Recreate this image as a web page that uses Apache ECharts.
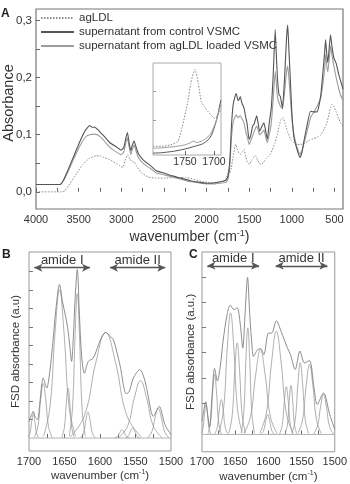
<!DOCTYPE html>
<html><head><meta charset="utf-8">
<script src="https://cdn.jsdelivr.net/npm/echarts@6.0.0/dist/echarts.min.js"></script>
<style>html,body{margin:0;padding:0;background:#fff}#c{width:350px;height:484px}</style>
</head><body><div id="c"></div>
<script>
// ---------- Panel A : FTIR spectra (wavenumber cm-1, absorbance) ----------
const seriesNamesA = ['agLDL', 'supernatant from control VSMC', 'supernatant from agLDL loaded VSMC'];
const xTicksA = [500,750,1000,1250,1500,1750,2000,2250,2500,2750,3000,3250,3500,3750,4000];
const xLabelsA = [500,1000,1500,2000,2500,3000,3500,4000];
const yTicksA = [0,0.05,0.1,0.15,0.2,0.25,0.3];
const yLabelsA = [0,0.1,0.2,0.3];

const specAgLDL = [[4000,0.0],[3700,0.0],[3660,0.002],[3600,0.015],[3520,0.033],[3450,0.048],[3380,0.058],[3300,0.063],[3250,0.063],[3200,0.06],[3134,0.056],[3060,0.05],[3013,0.045],[2980,0.043],[2955,0.055],[2925,0.065],[2900,0.058],[2870,0.052],[2852,0.053],[2820,0.045],[2760,0.033],[2685,0.026],[2600,0.024],[2500,0.024],[2400,0.025],[2300,0.025],[2240,0.025],[2150,0.022],[2050,0.018],[1950,0.016],[1850,0.017],[1780,0.02],[1755,0.03],[1738,0.04],[1725,0.034],[1710,0.042],[1690,0.06],[1670,0.078],[1658,0.083],[1640,0.075],[1620,0.068],[1600,0.066],[1580,0.07],[1561,0.074],[1540,0.062],[1520,0.052],[1500,0.048],[1470,0.055],[1440,0.062],[1424,0.063],[1400,0.055],[1380,0.05],[1362,0.048],[1330,0.052],[1300,0.058],[1270,0.063],[1250,0.066],[1200,0.085],[1170,0.1],[1150,0.115],[1130,0.125],[1105,0.13],[1080,0.12],[1050,0.105],[1015,0.092],[980,0.086],[940,0.083],[897,0.083],[850,0.085],[800,0.09],[750,0.093],[706,0.095],[660,0.1],[620,0.11],[590,0.12],[566,0.135],[545,0.148],[530,0.153],[510,0.15],[480,0.14],[450,0.128],[429,0.121],[400,0.115]];

const specControl = [[4000,0.013],[3800,0.013],[3720,0.013],[3680,0.02],[3620,0.04],[3550,0.065],[3480,0.09],[3420,0.108],[3370,0.116],[3340,0.113],[3310,0.113],[3270,0.108],[3200,0.097],[3134,0.086],[3060,0.079],[3000,0.073],[2970,0.078],[2945,0.095],[2928,0.104],[2910,0.088],[2888,0.072],[2870,0.082],[2850,0.089],[2830,0.08],[2800,0.067],[2744,0.056],[2650,0.045],[2590,0.037],[2500,0.033],[2400,0.028],[2300,0.024],[2200,0.02],[2100,0.017],[2000,0.015],[1900,0.016],[1800,0.019],[1770,0.021],[1745,0.03],[1725,0.06],[1710,0.11],[1690,0.15],[1665,0.168],[1652,0.172],[1635,0.162],[1622,0.16],[1605,0.167],[1585,0.155],[1561,0.147],[1540,0.13],[1526,0.121],[1510,0.1],[1500,0.092],[1480,0.1],[1460,0.115],[1444,0.118],[1412,0.133],[1395,0.12],[1377,0.106],[1350,0.115],[1327,0.121],[1305,0.105],[1288,0.092],[1265,0.12],[1241,0.147],[1220,0.2],[1195,0.284],[1182,0.24],[1168,0.197],[1150,0.17],[1135,0.167],[1110,0.147],[1085,0.2],[1062,0.27],[1048,0.292],[1035,0.25],[1020,0.205],[1000,0.14],[975,0.095],[940,0.075],[905,0.06],[880,0.07],[858,0.089],[830,0.11],[780,0.141],[740,0.14],[703,0.14],[660,0.17],[635,0.21],[615,0.245],[604,0.266],[590,0.24],[578,0.226],[560,0.255],[546,0.275],[530,0.255],[507,0.234],[480,0.225],[449,0.205],[430,0.195],[400,0.18]];

const specLoaded = [[4000,0.013],[3720,0.013],[3680,0.019],[3620,0.037],[3550,0.06],[3480,0.082],[3420,0.096],[3370,0.1],[3310,0.101],[3251,0.097],[3200,0.089],[3134,0.078],[3060,0.07],[3000,0.065],[2970,0.07],[2945,0.087],[2928,0.094],[2910,0.08],[2888,0.065],[2870,0.075],[2850,0.082],[2830,0.073],[2800,0.06],[2744,0.05],[2650,0.04],[2590,0.033],[2500,0.03],[2400,0.026],[2300,0.022],[2200,0.018],[2100,0.016],[2000,0.014],[1900,0.014],[1800,0.016],[1770,0.017],[1745,0.024],[1725,0.05],[1710,0.09],[1690,0.12],[1665,0.132],[1652,0.135],[1635,0.13],[1605,0.133],[1585,0.128],[1561,0.121],[1540,0.105],[1520,0.095],[1500,0.083],[1480,0.09],[1444,0.105],[1412,0.115],[1395,0.108],[1377,0.1],[1350,0.104],[1327,0.108],[1305,0.095],[1288,0.086],[1265,0.1],[1241,0.12],[1220,0.16],[1195,0.211],[1182,0.19],[1168,0.165],[1135,0.15],[1110,0.145],[1085,0.175],[1062,0.21],[1048,0.22],[1035,0.2],[1020,0.17],[1000,0.13],[975,0.1],[940,0.078],[905,0.066],[880,0.072],[858,0.085],[830,0.1],[780,0.13],[740,0.14],[703,0.15],[660,0.165],[635,0.19],[615,0.215],[604,0.24],[590,0.22],[578,0.21],[560,0.235],[546,0.255],[530,0.24],[507,0.22],[480,0.2],[449,0.18],[430,0.17],[400,0.16]];

// ---------- Inset (1805-1688 cm-1, arbitrary units) ----------
const insetTicksX = [1700,1750];
const insetTicksY = [38,69];
const insetAgLDL = [[1805,9.5],[1790,9.5],[1775,11],[1762,15],[1755,30],[1745,58],[1740,78],[1733,93],[1727,78],[1722,58],[1716,52],[1710,47],[1699,40],[1690,47],[1688,50]];
const insetControl = [[1805,2],[1790,2.5],[1770,4],[1750,6.5],[1733,9.5],[1720,12],[1710,16.5],[1704,22],[1698,33],[1694,42],[1690,54.5],[1688,60]];
const insetLoaded = [[1805,7.3],[1790,7.8],[1770,9],[1750,11],[1740,13.5],[1735,15],[1730,13.5],[1720,15.5],[1710,20],[1704,25],[1698,34],[1694,42],[1690,51],[1688,55]];

// ---------- Panels B and C : FSD spectra and fitted bands ----------
const xTicksBC = [1525,1550,1575,1600,1625,1650,1675];
const xLabelsBC = [1500,1550,1600,1650,1700];
const yTicksB = [1,2,3,4,5,6,7,8,9];
const yTicksC = [1.25,2.25,3.25,4.25,5.25,6.25];

const sumB = [[1700,0.9],[1697,1.2],[1694,1.44],[1691,1.1],[1688,1.0],[1685,1.8],[1682,2.9],[1680,3.24],[1677,2.9],[1675,2.7],[1671,3.5],[1667,4.9],[1662,7.0],[1657,8.29],[1653,7.4],[1649,6.67],[1645.5,5.95],[1642.3,4.9],[1640,4.14],[1637.5,5.5],[1635,7.57],[1632,9.1],[1629,6.67],[1626,4.5],[1622,3.5],[1616.5,4.14],[1609.5,4.32],[1602,5.05],[1597,5.5],[1591.5,5.71],[1586,5.5],[1581,5.3],[1572,3.96],[1563,2.4],[1559,2.5],[1553,3.24],[1544,3.69],[1536.5,3.06],[1528,1.44],[1525,1.17],[1520,1.5],[1516.5,1.71],[1508.5,0.72],[1500,0.18]];
const bandsB = [
 [[1701.5,0.02],[1698.5,0.27],[1696.1,0.93],[1694,1.3],[1691.9,0.93],[1689.5,0.27],[1686.5,0.02]],
 [[1692.5,0.04],[1687.5,0.62],[1683.5,2.1],[1680,2.95],[1676.5,2.1],[1672.5,0.62],[1667.5,0.04]],
 [[1679.5,0.1],[1670.5,1.68],[1663.3,5.7],[1657,8.0],[1650.7,5.7],[1643.5,1.68],[1634.5,0.1]],
 [[1653.7,0.04],[1650.2,0.57],[1647.4,1.92],[1645,2.7],[1642.6,1.92],[1639.8,0.57],[1636.3,0.04]],
 [[1643.2,0.1],[1638.7,1.64],[1635.1,5.55],[1632,7.8],[1628.9,5.55],[1625.3,1.64],[1620.8,0.1]],
 [[1627,0.02],[1623,0.29],[1619.8,1.0],[1617,1.4],[1614.2,1.0],[1611,0.29],[1607,0.02]],
 [[1642,0.07],[1622,1.2],[1606,4.06],[1592,5.7],[1578,4.06],[1562,1.2],[1542,0.07]],
 [[1579,0.01],[1575,0.09],[1571.8,0.32],[1569,0.45],[1566.2,0.32],[1563,0.09],[1559,0.01]],
 [[1564,0.01],[1560,0.12],[1556.8,0.39],[1554,0.55],[1551.2,0.39],[1548,0.12],[1544,0.01]],
 [[1573,0.04],[1561,0.65],[1551.4,2.2],[1543,3.1],[1534.6,2.2],[1525,0.65],[1513,0.04]],
 [[1533,0.02],[1527,0.34],[1522.2,1.14],[1518,1.6],[1513.8,1.14],[1509,0.34],[1503,0.02]]
];

const sumC = [[1700,0.53],[1697,1.0],[1694.3,1.3],[1691.5,0.8],[1688.7,0.3],[1685,1.5],[1681.1,2.62],[1676.8,2.12],[1672.5,2.7],[1668.3,3.7],[1662,4.8],[1657.4,5.13],[1651.8,4.96],[1647,5.03],[1642.3,4.37],[1638.5,3.44],[1635.2,4.76],[1631.4,6.24],[1628.1,4.76],[1624.4,3.44],[1622.5,3.1],[1616.3,3.37],[1611.6,3.41],[1606.9,3.17],[1599.8,4.03],[1595,4.03],[1588,4.52],[1580.9,4.1],[1571.4,3.44],[1566.7,3.17],[1559.6,2.58],[1552.5,3.31],[1545.4,2.84],[1538.3,2.94],[1531.2,1.85],[1526.5,1.19],[1517,1.65],[1507.6,0.79],[1500,0.2]];
const bandsC = [
 [[1701.5,0.02],[1698.5,0.25],[1696.1,0.85],[1694,1.19],[1691.9,0.85],[1689.5,0.25],[1686.5,0.02]],
 [[1691,0.03],[1687,0.5],[1683.8,1.7],[1681,2.38],[1678.2,1.7],[1675,0.5],[1671,0.03]],
 [[1681,0.02],[1677,0.29],[1673.8,0.99],[1671,1.39],[1668.2,0.99],[1665,0.29],[1661,0.02]],
 [[1674.5,0.06],[1667.5,1.01],[1661.9,3.44],[1657,4.83],[1652.1,3.44],[1646.5,1.01],[1639.5,0.06]],
 [[1659.5,0.05],[1654.5,0.76],[1650.5,2.59],[1647,3.64],[1643.5,2.59],[1639.5,0.76],[1634.5,0.05]],
 [[1641,0.05],[1637,0.89],[1633.8,3.01],[1631,4.23],[1628.2,3.01],[1625,0.89],[1621,0.05]],
 [[1637,0.04],[1627,0.71],[1619,2.4],[1612,3.37],[1605,2.4],[1597,0.71],[1587,0.04]],
 [[1611,0.01],[1607,0.17],[1603.8,0.56],[1601,0.79],[1598.2,0.56],[1595,0.17],[1591,0.01]],
 [[1613,0.05],[1603,0.86],[1595,2.92],[1588,4.1],[1581,2.92],[1573,0.86],[1563,0.05]],
 [[1583,0.02],[1579,0.4],[1575.8,1.35],[1573,1.9],[1570.2,1.35],[1567,0.4],[1563,0.02]],
 [[1574.7,0.03],[1571.2,0.41],[1568.4,1.39],[1566,1.95],[1563.6,1.39],[1560.8,0.41],[1557.3,0.03]],
 [[1564.5,0.04],[1559.5,0.6],[1555.5,2.03],[1552,2.85],[1548.5,2.03],[1544.5,0.6],[1539.5,0.04]],
 [[1555.5,0.04],[1548.5,0.58],[1542.9,1.98],[1538,2.78],[1533.1,1.98],[1527.5,0.58],[1520.5,0.04]],
 [[1532,0.02],[1526,0.33],[1521.2,1.13],[1517,1.59],[1512.8,1.13],[1508,0.33],[1502,0.02]]
];
const baselineBC = [[1700,0],[1500,0]];

// amide annotations: [label, from wavenumber, to wavenumber]
const amideB = [['amide I',1692.5,1614],['amide II',1586,1508]];
const amideC = [['amide I',1692,1614],['amide II',1589,1511]];
const amideYB = 9.2, amideYC = 6.7;

// ---------- chart ----------
const FF = '"Liberation Sans", Arial, sans-serif';
const TXT = '#333';
const chart = echarts.init(document.getElementById('c'), null, {renderer:'canvas'});
const plain = v => String(v);

function sup(size) {
  return {
    rich: {
      a: {fontSize: size, fontFamily: FF, color: TXT, lineHeight: size + 3},
      s: {fontSize: Math.round(size * 0.62), fontFamily: FF, color: TXT, verticalAlign: 'top', lineHeight: size * 0.6}
    }
  };
}
function xAx(grid, min, max, ticks, labels, fs, name, nameSize, gap, margin) {
  return {
    type: 'value', gridIndex: grid, min: min, max: max, inverse: true,
    axisLine: {show: false}, splitLine: {show: false},
    axisTick: {show: true, inside: true, length: 4, customValues: ticks, lineStyle: {color: '#666', width: 1}},
    axisLabel: {customValues: labels, fontSize: fs, fontFamily: FF, color: TXT, margin: margin, formatter: plain},
    name: name, nameLocation: 'middle', nameGap: gap,
    nameTextStyle: name ? sup(nameSize) : undefined
  };
}
function lineS(name, data, xi, yi, color, width, type, smooth, z) {
  return {
    name: name, type: 'line', data: data, xAxisIndex: xi, yAxisIndex: yi,
    symbol: 'none', showSymbol: false, smooth: smooth, lineStyle: {color: color, width: width, type: type},
    itemStyle: {color: color}, z: z || 2, silent: true, animation: false
  };
}
function amideMarks(list, y) {
  return {
    silent: true, symbol: ['arrow', 'arrow'], symbolSize: [6, 8],
    lineStyle: {color: '#555', width: 1.4, type: 'solid'},
    label: {show: true, position: 'insideMiddleTop', distance: 1, fontSize: 13, fontFamily: FF, color: TXT,
      formatter: p => p.name},
    data: list.map(a => [{name: a[0], coord: [a[1], y]}, {coord: [a[2], y]}])
  };
}

const series = [];
series.push(lineS(seriesNamesA[0], specAgLDL, 0, 0, '#8a8a8a', 1, [1.5, 1.5], 0.15, 3));
series.push(lineS(seriesNamesA[1], specControl, 0, 0, '#555', 1.1, 'solid', 0.15, 5));
series.push(lineS(seriesNamesA[2], specLoaded, 0, 0, '#9c9c9c', 1.1, 'solid', 0.15, 4));
series.push(lineS('i1', insetAgLDL, 1, 1, '#8a8a8a', 1, [1.5, 1.5], 0.2));
series.push(lineS('i2', insetControl, 1, 1, '#555', 1, 'solid', 0.2));
series.push(lineS('i3', insetLoaded, 1, 1, '#9c9c9c', 1, 'solid', 0.2));

series.push(lineS('bB', baselineBC, 2, 2, '#aaa', 0.9, 'solid', false));
bandsB.forEach((b, i) => series.push(lineS('B' + i, b, 2, 2, '#9a9a9a', 0.8, 'solid', 0.45)));
const sB = lineS('sumB', sumB, 2, 2, '#808080', 0.9, 'solid', 0.3, 3);
sB.markLine = amideMarks(amideB, amideYB);
series.push(sB);

series.push(lineS('bC', baselineBC, 3, 3, '#aaa', 0.9, 'solid', false));
bandsC.forEach((b, i) => series.push(lineS('C' + i, b, 3, 3, '#9a9a9a', 0.8, 'solid', 0.45)));
const sC = lineS('sumC', sumC, 3, 3, '#808080', 0.9, 'solid', 0.3, 3);
sC.markLine = amideMarks(amideC, amideYC);
series.push(sC);

const wn = '{a|wavenumber (cm}{s|-1}{a|)}';

const option = {
  backgroundColor: '#fff',
  animation: false,
  textStyle: {fontFamily: FF},
  legend: {
    data: seriesNamesA, orient: 'vertical', left: 40, top: 12, itemWidth: 33, itemHeight: 12, itemGap: 2,
    padding: 0, selectedMode: false, itemStyle: {opacity: 0},
    textStyle: {fontSize: 11.5, fontFamily: FF, color: TXT}
  },
  grid: [
    {left: 36, top: 9, width: 307, height: 200, show: true, borderColor: '#777', borderWidth: 1.2, backgroundColor: 'transparent'},
    {left: 153, top: 63, width: 68, height: 92, show: true, borderColor: '#aaa', borderWidth: 1, backgroundColor: 'transparent'},
    {left: 29, top: 252, width: 142, height: 199, show: true, borderColor: '#999', borderWidth: 1, backgroundColor: 'transparent'},
    {left: 202, top: 252, width: 141, height: 200, show: true, borderColor: '#999', borderWidth: 1, backgroundColor: 'transparent'}
  ],
  xAxis: [
    xAx(0, 400, 4000, xTicksA, xLabelsA, 11, wn, 14, 20, 5),
    xAx(1, 1688, 1805, insetTicksX, insetTicksX, 10.5, '', 0, 0, 2),
    xAx(2, 1500, 1700, xTicksBC, xLabelsBC, 11, wn, 11.5, 18, 5),
    xAx(3, 1500, 1700, xTicksBC, xLabelsBC, 11, wn, 11.5, 18, 5)
  ],
  yAxis: [
    {type: 'value', gridIndex: 0, min: -0.03, max: 0.32, axisLine: {show: false}, splitLine: {show: false},
     axisTick: {show: true, inside: true, length: 4, customValues: yTicksA, lineStyle: {color: '#666'}},
     axisLabel: {customValues: yLabelsA, fontSize: 11.5, fontFamily: FF, color: TXT, margin: 4,
       formatter: v => v.toFixed(1).replace('.', ',')}},
    {type: 'value', gridIndex: 1, min: 0, max: 100, axisLine: {show: false}, splitLine: {show: false},
     axisTick: {show: true, inside: true, length: 3, customValues: insetTicksY, lineStyle: {color: '#999'}},
     axisLabel: {show: false}},
    {type: 'value', gridIndex: 2, min: -0.7, max: 10.05, axisLine: {show: false}, splitLine: {show: false},
     axisTick: {show: true, inside: true, length: 4, customValues: yTicksB, lineStyle: {color: '#777'}},
     axisLabel: {show: false},
     name: 'FSD absorbance (a.u)', nameLocation: 'middle', nameGap: 7,
     nameTextStyle: {fontSize: 11.5, fontFamily: FF, color: TXT}},
    {type: 'value', gridIndex: 3, min: -0.687, max: 7.25, axisLine: {show: false}, splitLine: {show: false},
     axisTick: {show: true, inside: true, length: 4, customValues: yTicksC, lineStyle: {color: '#777'}},
     axisLabel: {show: false},
     name: 'FSD absorbance (a.u.)', nameLocation: 'middle', nameGap: 5,
     nameTextStyle: {fontSize: 11.5, fontFamily: FF, color: TXT}}
  ],
  graphic: [
    {type: 'text', x: 9, y: 103, rotation: Math.PI / 2,
     style: {text: 'Absorbance', fontSize: 14.5, fontFamily: FF, fill: TXT, align: 'center', verticalAlign: 'middle'}},
    {type: 'text', left: 1, top: 8, style: {text: 'A', fontSize: 12, fontWeight: 'bold', fontFamily: FF, fill: '#222'}},
    {type: 'text', left: 2, top: 249, style: {text: 'B', fontSize: 12, fontWeight: 'bold', fontFamily: FF, fill: '#222'}},
    {type: 'text', left: 189, top: 249, style: {text: 'C', fontSize: 12, fontWeight: 'bold', fontFamily: FF, fill: '#222'}}
  ],
  series: series
};
chart.setOption(option);
</script></body></html>
